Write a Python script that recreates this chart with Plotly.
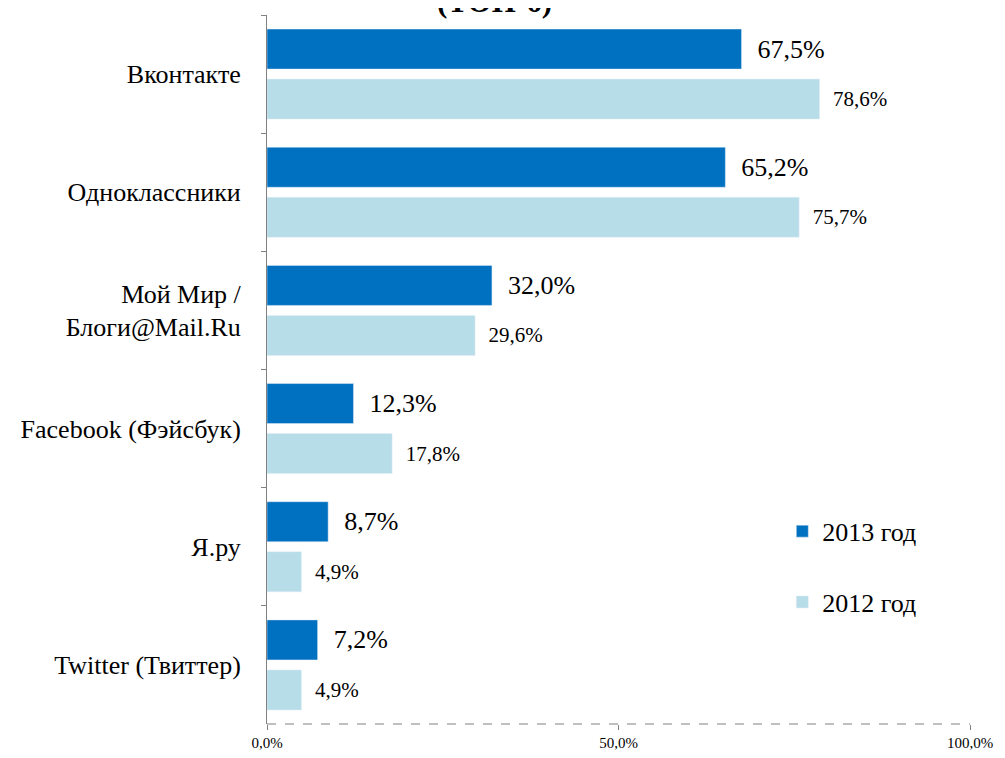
import plotly.graph_objects as go

# Данные: популярность соцсетей (ТОП-6)
sites = ['Вконтакте', 'Одноклассники', 'Мой Мир /<br>Блоги@Mail.Ru',
         'Facebook (Фэйсбук)', 'Я.ру', 'Twitter (Твиттер)']
vals_2013 = [67.5, 65.2, 32.0, 12.3, 8.7, 7.2]
vals_2012 = [78.6, 75.7, 29.6, 17.8, 4.9, 4.9]
x_ticks = [0, 50, 100]
x_labels = ['0,0%', '50,0%', '100,0%']

FONT = 'Liberation Serif'


def fmt(v):
    return f'{v:.1f}%'.replace('.', ',')


fig = go.Figure()
fig.add_trace(go.Bar(
    name='2013 год', y=sites, x=vals_2013, orientation='h',
    marker=dict(color='#0070C0'),
    text=['\u00a0\u00a0' + fmt(v) for v in vals_2013],
    textposition='outside', textfont=dict(family=FONT, size=26, color='black'),
    constraintext='none', cliponaxis=False, legendgroup='a',
))
fig.add_trace(go.Bar(
    name='2012 год', y=sites, x=vals_2012, orientation='h',
    marker=dict(color='#B7DDE8'),
    text=['\u00a0\u00a0' + fmt(v) for v in vals_2012],
    textposition='outside', textfont=dict(family=FONT, size=21, color='black'),
    constraintext='none', cliponaxis=False, legendgroup='b',
))

# пунктирная ось X
fig.add_shape(type='line', xref='paper', yref='paper', x0=0, x1=1, y0=0, y1=0,
              line=dict(color='#808080', width=1, dash='dash'))

# заголовок обрезан сверху, как в оригинале
fig.add_annotation(text='<b>(ТОП-6)</b>', xref='paper', yref='paper',
                   x=0.323, y=0.992, xanchor='center', yanchor='bottom',
                   showarrow=False, font=dict(family=FONT, size=31, color='black'))

fig.update_layout(
    width=1005, height=758,
    margin=dict(l=259, r=43, t=7, b=42, autoexpand=False),
    paper_bgcolor='white', plot_bgcolor='white',
    barmode='group', bargap=0.153, bargroupgap=0.2,
    font=dict(family=FONT, size=26, color='black'),
    legend=dict(x=0.733, y=0.305, xanchor='left', yanchor='top',
                traceorder='grouped', tracegroupgap=34,
                font=dict(family=FONT, size=26, color='black')),
    xaxis=dict(range=[0, 100], tickvals=x_ticks, ticktext=x_labels,
               showgrid=False, zeroline=False, showline=False, automargin=False,
               ticks='outside', ticklen=5, tickcolor='#808080',
               tickfont=dict(family=FONT, size=15)),
    yaxis=dict(categoryorder='array', categoryarray=sites, autorange='reversed',
               showgrid=False, showline=True, linecolor='#808080', linewidth=1,
               automargin=False, ticklabelstandoff=20,
               ticks='outside', tickson='boundaries', ticklen=5, tickcolor='#808080',
               tickfont=dict(family=FONT, size=26)),
)

fig.write_html('out.html')
